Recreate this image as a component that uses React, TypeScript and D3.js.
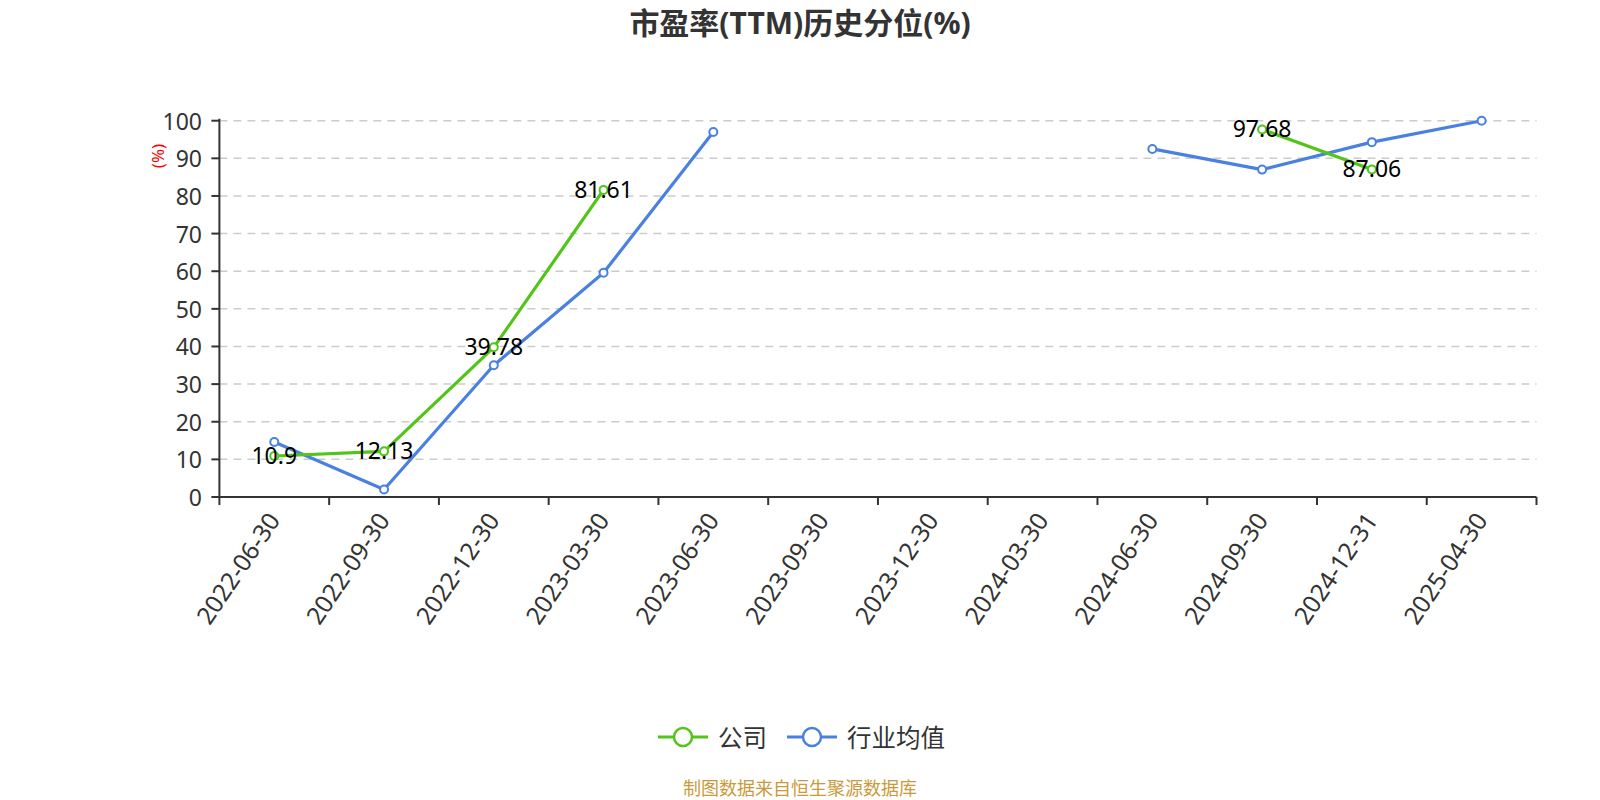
import React from "react";
import * as d3 from "d3";

const categories = [
  "2022-06-30", "2022-09-30", "2022-12-30", "2023-03-30", "2023-06-30", "2023-09-30",
  "2023-12-30", "2024-03-30", "2024-06-30", "2024-09-30", "2024-12-31", "2025-04-30",
];
const companyValues: (number | null)[] = [10.9, 12.13, 39.78, 81.61, null, null, null, null, null, 97.68, 87.06, null];
const industryValues: (number | null)[] = [14.6, 2.0, 35.0, 59.6, 97.0, null, null, null, 92.5, 87.0, 94.3, 100];
const yTicks = [0, 10, 20, 30, 40, 50, 60, 70, 80, 90, 100];
const seriesNames = ["公司", "行业均值"];

const W = 1600, H = 800;
const left = 219.4, right = 1536.5, top = 120.7, bottom = 497;
const GREEN = "#52c41a";
const BLUE = "#4a80e0";
const FONT = "'Noto Sans', 'Noto Sans CJK SC', sans-serif";

export default function App() {
  const x = d3.scaleBand<string>().domain(categories).range([left, right]).paddingInner(0).paddingOuter(0);
  const y = d3.scaleLinear().domain([0, 100]).range([bottom, top]);
  const cx = (i: number) => (x(categories[i]) as number) + x.bandwidth() / 2;

  const line = d3.line<number | null>()
    .defined((d) => d != null)
    .x((_, i) => cx(i))
    .y((d) => y(d as number));

  const series = [
    { name: seriesNames[0], values: companyValues, color: GREEN, labels: true },
    { name: seriesNames[1], values: industryValues, color: BLUE, labels: false },
  ];
  const drawOrder = [series[1], series[0]];

  return (
    <svg width={W} height={H} style={{ display: "block", position: "absolute", left: 0, top: 0 }} fontFamily={FONT}>
      <rect width={W} height={H} fill="#fff" />
      <text x={800} y={22} textAnchor="middle" dominantBaseline="central" fontSize={30} fontWeight="bold" fill="#333">
        市盈率(TTM)历史分位(%)
      </text>

      {/* grid */}
      {yTicks.map((t) => (
        t === 0 ? null : (
          <line key={t} x1={left} x2={right} y1={y(t)} y2={y(t)} stroke="#ccc" strokeWidth={1.5} strokeDasharray="8,6" />
        )
      ))}

      {/* y axis */}
      <line x1={left} x2={left} y1={top - 2} y2={bottom} stroke="#333" strokeWidth={2} />
      {yTicks.map((t) => (
        <g key={t}>
          <line x1={left - 8} x2={left} y1={y(t)} y2={y(t)} stroke="#333" strokeWidth={2} />
          <text x={202} y={y(t)} textAnchor="end" dominantBaseline="central" fontSize={23} fill="#333">{t}</text>
        </g>
      ))}
      <text transform={`translate(157,156) rotate(-90)`} textAnchor="middle" dominantBaseline="central" fontSize={17} fill="#f00">(%)</text>

      {/* x axis */}
      <line x1={left} x2={right} y1={bottom} y2={bottom} stroke="#333" strokeWidth={2} />
      {d3.range(categories.length + 1).map((i) => {
        const xx = left + x.bandwidth() * i;
        return <line key={i} x1={xx} x2={xx} y1={bottom} y2={bottom + 8} stroke="#333" strokeWidth={2} />;
      })}
      {categories.map((c, i) => (
        <text key={c} transform={`translate(${cx(i) - 1},${bottom + 18}) rotate(-56)`} textAnchor="end" dominantBaseline="central" fontSize={24.5} fill="#333">
          {c}
        </text>
      ))}

      {/* lines */}
      {drawOrder.map((s) => (
        <path key={s.name} d={line(s.values) || ""} fill="none" stroke={s.color} strokeWidth={3.2} strokeLinejoin="round" />
      ))}
      {drawOrder.map((s) => (
        <g key={s.name + "m"}>
          {s.values.map((v, i) => v == null ? null : (
            <circle key={i} cx={cx(i)} cy={y(v)} r={4} fill="#fff" stroke={s.color} strokeWidth={2} />
          ))}
        </g>
      ))}
      {series.filter((s) => s.labels).map((s) => (
        <g key={s.name + "l"}>
          {s.values.map((v, i) => v == null ? null : (
            <text key={i} x={cx(i)} y={y(v) - 1} textAnchor="middle" dominantBaseline="central" fontSize={23} fill="#000">{v}</text>
          ))}
        </g>
      ))}

      {/* legend */}
      {[{ s: series[0], x0: 658, tx: 718 }, { s: series[1], x0: 787, tx: 847 }].map(({ s, x0, tx }) => (
        <g key={s.name + "lg"}>
          <line x1={x0} x2={x0 + 50} y1={737} y2={737} stroke={s.color} strokeWidth={3} />
          <circle cx={x0 + 25} cy={737} r={9} fill="#fff" stroke={s.color} strokeWidth={2.5} />
          <text x={tx} y={737} dominantBaseline="central" fontSize={24.5} fill="#333">{s.name}</text>
        </g>
      ))}

      <text x={800} y={788} textAnchor="middle" dominantBaseline="central" fontSize={18} fill="#c99a3c">制图数据来自恒生聚源数据库</text>
    </svg>
  );
}
